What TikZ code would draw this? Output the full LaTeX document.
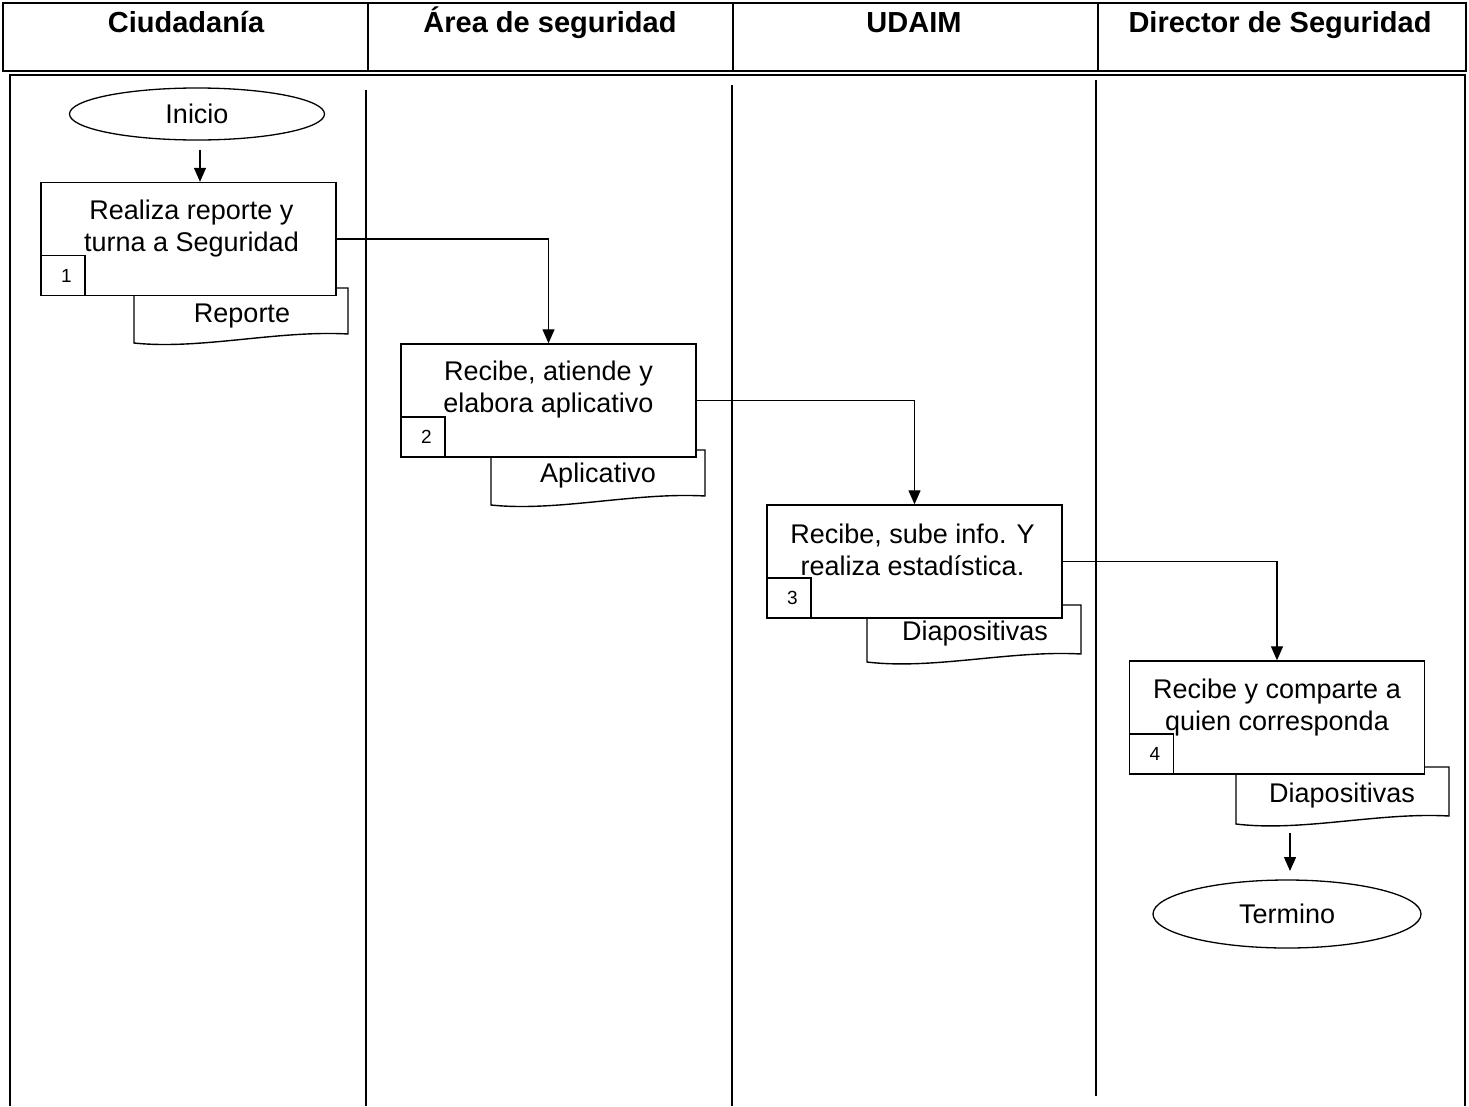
\documentclass[tikz,border=0pt]{standalone}
\usepackage{fontspec}
\setmainfont{Liberation Sans}
\usetikzlibrary{shapes.geometric,arrows.meta,calc}
\begin{document}
\begin{tikzpicture}[x=1pt,y=-1pt,
  frame/.style={line width=2pt},
  divider/.style={line width=1.3pt},
  headtext/.style={font=\fontsize{29}{33}\selectfont\bfseries,inner sep=0pt,anchor=base},
  bodytext/.style={font=\fontsize{27}{32}\selectfont,align=center,inner sep=0pt},
  stepbox/.style={draw,line width=1.4pt,fill=white,minimum width=295pt,minimum height=113pt,inner sep=0pt},
  numbox/.style={draw,line width=1.4pt,fill=white,minimum width=44pt,minimum height=40pt,inner sep=0pt,font=\fontsize{19}{21}\selectfont},
  docshape/.style={draw,line width=1.4pt,fill=white},
  term/.style={draw,ellipse,line width=1.3pt,fill=white,inner sep=0pt,font=\fontsize{27}{30}\selectfont},
  conn/.style={line width=1.3pt,-{Triangle[length=14pt,width=12pt]}}
]
\useasboundingbox (0,0) rectangle (1469,1106);

% header
\draw[frame] (3,3) rectangle (1466,71);
\draw[divider] (368,3) -- (368,71);
\draw[divider] (733,3) -- (733,71);
\draw[divider] (1098,3) -- (1098,71);
\node[headtext] (h1) at (186,32) {Ciudadanía};
\node[headtext] (h2) at (550,32) {Área de seguridad};
\node[headtext] (h3) at (914,32) {UDAIM};
\node[headtext] (h4) at (1280,32) {Director de Seguridad};

% body frame
\draw[frame] (10,1106) -- (10,75) -- (1465,75) -- (1465,1106);
\draw[divider] (366,90) -- (366,1106);
\draw[divider] (732,85) -- (732,1106);
\draw[divider] (1096,80) -- (1096,1096);

% start
\node[term,minimum width=255pt,minimum height=52pt] (ini) at (197,114) {Inicio};

% documents (behind boxes)
\draw[docshape] (134,288) -- (348,288) -- (348,334)
   .. controls (278,330) and (200,350) .. (134,343) -- cycle;
\node[bodytext] (d1) at (242,316) {Reporte};
\draw[docshape] (491,450) -- (705,450) -- (705,496)
   .. controls (635,492) and (557,512) .. (491,505) -- cycle;
\node[bodytext] (d2) at (598,476) {Aplicativo};
\draw[docshape] (867,605) -- (1081,605) -- (1081,654)
   .. controls (1011,650) and (933,670) .. (867,662) -- cycle;
\node[bodytext] (d3) at (975,634) {Diapositivas};
\draw[docshape] (1236,767) -- (1449,767) -- (1449,816)
   .. controls (1379,812) and (1302,832) .. (1236,824) -- cycle;
\node[bodytext] (d4) at (1342,796) {Diapositivas};

% step boxes
\node[stepbox] (b1) at (188.5,239) {};
\node[bodytext] (t1) at ($(b1.center)+(3,-10)$) {Realiza reporte y\\turna a Seguridad};
\node[numbox,anchor=south west] (n1) at (b1.south west) {\hspace*{7pt}1};

\node[stepbox] (b2) at (548.5,400.5) {};
\node[bodytext] (t2) at ($(b2.center)+(0,-11)$) {Recibe, atiende y\\elabora aplicativo};
\node[numbox,anchor=south west] (n2) at (b2.south west) {\hspace*{7pt}2};

\node[stepbox] (b3) at (914.5,561.5) {};
\node[bodytext] (t3) at ($(b3.center)+(-2,-12)$) {Recibe, sube info. Y\\realiza estadística.};
\node[numbox,anchor=south west] (n3) at (b3.south west) {\hspace*{7pt}3};

\node[stepbox] (b4) at (1277,717.5) {};
\node[bodytext] (t4) at ($(b4.center)+(0,-10)$) {Recibe y comparte a\\quien corresponda};
\node[numbox,anchor=south west] (n4) at (b4.south west) {\hspace*{7pt}4};

% end
\node[term,minimum width=268pt,minimum height=68pt] (fin) at (1287,914) {Termino};

% connectors
\coordinate (a0) at (200,150);
\draw[conn] (a0) -- (a0 |- b1.north);
\draw[conn] (b1.east) -| (b2.north);
\draw[conn] (b2.east) -| (b3.north);
\draw[conn] (b3.east) -| (b4.north);
\coordinate (a5) at (1290,833);
\coordinate (a6) at (1290,871);
\draw[conn] (a5) -- (a6);
\end{tikzpicture}
\end{document}
